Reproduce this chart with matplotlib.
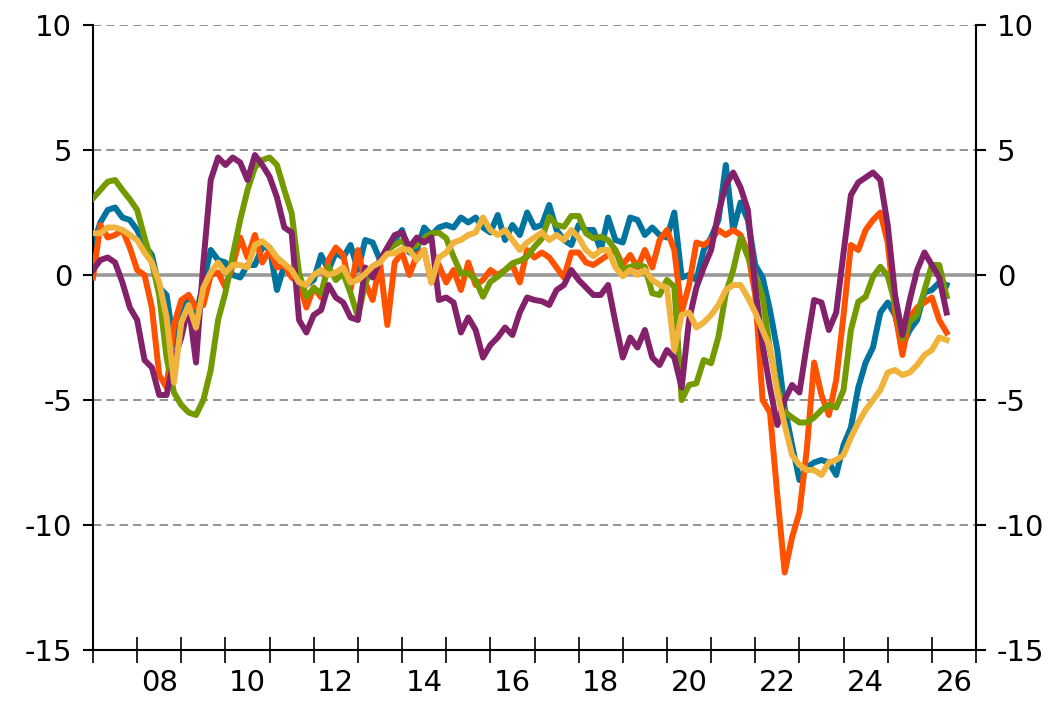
import matplotlib
matplotlib.use("Agg")
import matplotlib.pyplot as plt
import numpy as np

plt.rcParams['font.family'] = ['DejaVu Sans']
plt.rcParams['axes.unicode_minus'] = False

# bi-monthly readings, Jan 2007 .. May 2026
t = 2007 + np.arange(117) / 6.0

blue = [1.2, 2.1, 2.6, 2.7, 2.3, 2.2, 1.8, 1.2, 0.8, -0.5, -0.8, -2.8, -1.8, -0.8, -1.6, -0.3, 1.0, 0.6, 0.5, 0.0,
        -0.1, 0.4, 0.4, 1.1, 1.1, -0.6, 0.4, 0.2, -0.6, -0.4, -0.2, 0.8, 0.2, 0.9, 0.7, 1.2, 0.2, 1.4, 1.3, 0.6,
        0.9, 1.4, 1.8, 0.9, 1.0, 1.9, 1.6, 1.9, 2.0, 1.9, 2.3, 2.1, 2.3, 1.9, 1.7, 2.4, 1.4, 2.0, 1.6, 2.5,
        1.9, 2.0, 2.8, 1.8, 1.4, 1.2, 2.0, 1.8, 1.8, 1.0, 2.3, 1.4, 1.3, 2.3, 2.2, 1.6, 1.9, 1.6, 1.5, 2.5,
        -0.1, 0.0, -0.2, 1.0, 1.5, 2.2, 4.4, 1.8, 2.9, 2.2, 0.4, -0.1, -1.4, -3.0, -5.3, -6.8, -8.2, -7.7, -7.5, -7.4,
        -7.5, -8.0, -6.8, -6.1, -4.5, -3.5, -2.9, -1.5, -1.1, -1.6, -2.8, -2.2, -1.8, -0.7, -0.6, -0.3, -0.4]

orange = [-0.1, 2.0, 1.5, 1.6, 1.8, 1.1, 0.2, 0.0, -1.3, -4.0, -4.5, -2.0, -1.0, -0.8, -1.3, -1.2, 0.0, 0.1, -0.5, 0.4,
          1.5, 0.7, 1.6, 0.5, 1.0, 0.3, 0.4, -0.1, -0.3, -1.3, -0.5, -0.9, 0.6, 1.1, 0.8, -0.6, 1.0, -0.3, -1.0, 0.5,
          -2.0, 0.5, 0.9, 0.0, 0.8, 1.0, -0.3, 0.4, -0.3, 0.2, -0.6, 0.5, -0.4, -0.2, 0.2, 0.0, 0.2, 0.4, -0.3, 1.0,
          0.7, 0.9, 0.7, 0.3, -0.1, 0.9, 0.9, 0.5, 0.4, 0.6, 0.8, 1.0, 0.4, 0.8, 0.3, 1.0, 0.3, 1.4, 1.8, 1.0,
          -1.5, -0.4, 1.3, 1.2, 1.4, 1.8, 1.6, 1.8, 1.6, 0.9, -0.8, -5.0, -5.5, -8.8, -11.9, -10.5, -9.5, -7.0, -3.5, -4.8,
          -5.6, -4.2, -1.6, 1.2, 1.0, 1.8, 2.2, 2.5, 1.3, -1.5, -3.2, -1.7, -1.3, -1.1, -0.9, -1.8, -2.3]

green = [3.07, 3.4, 3.73, 3.8, 3.4, 3.03, 2.6, 1.5, 0.5, -0.8, -3.3, -4.7, -5.2, -5.5, -5.6, -5.0, -3.8, -1.8, -0.7, 0.8,
         2.2, 3.4, 4.3, 4.6, 4.7, 4.4, 3.4, 2.47, 0.07, -0.87, -0.53, -0.73, 0.33, -0.2, 0.07, -0.73, -1.67, -0.33, 0.33, 0.53,
         1.0, 1.2, 1.37, 1.07, 1.2, 1.47, 1.67, 1.69, 1.47, 0.73, 0.07, 0.07, -0.2, -0.87, -0.27, -0.07, 0.2, 0.47, 0.57, 0.73,
         1.13, 1.45, 2.33, 2.0, 1.93, 2.36, 2.36, 1.67, 1.47, 1.53, 1.4, 1.0, 0.2, 0.33, 0.4, 0.33, -0.73, -0.8, -0.2, -0.47,
         -5.0, -4.4, -4.33, -3.4, -3.53, -2.47, -0.73, 0.2, 1.47, 0.73, 0.0, -0.87, -3.0, -4.47, -5.47, -5.7, -5.9, -5.9, -5.7, -5.4,
         -5.2, -5.3, -4.6, -2.2, -1.07, -0.87, -0.07, 0.33, -0.04, -1.13, -2.53, -1.87, -1.6, -0.6, 0.4, 0.4, -0.85]

purple = [0.2, 0.6, 0.7, 0.5, -0.3, -1.3, -1.8, -3.4, -3.7, -4.8, -4.8, -3.4, -2.5, -1.2, -3.5, 0.5, 3.8, 4.7, 4.4, 4.7,
          4.5, 3.8, 4.8, 4.4, 3.93, 3.1, 1.9, 1.7, -1.8, -2.3, -1.6, -1.4, -0.4, -0.9, -1.1, -1.7, -1.8, 0.3, -0.1, 0.6,
          1.1, 1.6, 1.7, 1.1, 1.5, 1.3, 1.5, -1.0, -0.9, -1.1, -2.3, -1.7, -2.2, -3.3, -2.8, -2.5, -2.1, -2.4, -1.5, -0.9,
          -1.0, -1.05, -1.2, -0.6, -0.4, 0.2, -0.2, -0.5, -0.8, -0.8, -0.4, -1.9, -3.3, -2.5, -2.9, -2.2, -3.3, -3.6, -3.0, -3.3,
          -4.5, -1.8, -0.5, 0.3, 1.0, 2.5, 3.6, 4.1, 3.5, 2.6, -0.5, -2.8, -4.5, -6.0, -5.0, -4.4, -4.7, -2.8, -1.0, -1.1,
          -2.2, -1.5, 0.9, 3.2, 3.7, 3.9, 4.1, 3.8, 2.0, -0.8, -2.4, -1.0, 0.2, 0.9, 0.4, -0.1, -1.5]

yellow = [1.67, 1.67, 1.9, 1.9, 1.8, 1.6, 1.4, 0.9, 0.5, -0.3, -1.7, -4.3, -1.9, -1.2, -2.1, -0.5, 0.1, 0.5, 0.1, 0.4,
          0.4, 0.3, 1.2, 1.35, 1.1, 0.7, 0.45, 0.2, -0.3, -0.4, 0.0, 0.2, 0.0, 0.1, 0.3, -0.3, -0.2, 0.05, 0.35, 0.5,
          0.85, 0.87, 1.05, 1.0, 0.6, 1.0, -0.3, 0.7, 0.9, 1.3, 1.4, 1.6, 1.7, 2.3, 1.8, 1.6, 1.8, 1.4, 1.0, 1.3,
          1.5, 1.7, 1.4, 1.6, 1.4, 1.8, 1.5, 1.0, 0.75, 1.0, 1.0, 0.3, -0.05, 0.2, 0.0, 0.2, -0.2, -0.4, -0.5, -3.0,
          -1.6, -1.5, -2.1, -1.9, -1.6, -1.2, -0.6, -0.4, -0.4, -0.9, -1.5, -2.2, -2.9, -4.7, -6.0, -7.2, -7.6, -7.8, -7.8, -8.0,
          -7.5, -7.4, -7.2, -6.5, -5.9, -5.4, -5.0, -4.6, -3.9, -3.8, -4.0, -3.9, -3.6, -3.2, -3.0, -2.5, -2.6]

year_ticks = list(range(2007, 2028))
label_years = list(range(2008, 2027, 2))
yticks = [-15, -10, -5, 0, 5, 10]

fig = plt.figure(figsize=(10.61, 7.04), dpi=100)
ax = fig.add_axes([93/1061, 54/704, 883/1061, 625/704])

for yv in [-10, -5, 5, 10]:
    ax.axhline(yv, color='#808080', lw=1.2, ls=(0, (5, 3)), zorder=1)
ax.axhline(0, color='#999999', lw=2.6, zorder=1)

lw = 4.3
ax.plot(t, blue, color='#00749E', lw=lw, zorder=2, solid_joinstyle='round')
ax.plot(t, orange, color='#FF5200', lw=lw, zorder=3, solid_joinstyle='round')
ax.plot(t, green, color='#739A00', lw=lw, zorder=4, solid_joinstyle='round')
ax.plot(t, purple, color='#83226A', lw=lw, zorder=5, solid_joinstyle='round')
ax.plot(t, yellow, color='#F0B43C', lw=lw, zorder=6, solid_joinstyle='round')

ax.set_xlim(2007, 2027)
ax.set_ylim(-15, 10)

ax.set_xticks(year_ticks)
ax.set_xticklabels([])
ax.set_xticks([y + 0.5 for y in label_years], minor=True)
ax.set_xticklabels([str(y)[2:] for y in label_years], minor=True)
ax.tick_params(axis='x', which='major', direction='inout', length=19, width=1.2, color='black')
ax.tick_params(axis='x', which='minor', length=0, pad=14, labelsize=21)

ax.set_yticks(yticks)
ax.set_yticklabels([str(v) for v in yticks])
ax.tick_params(axis='y', which='major', direction='out', length=7, width=1.5, labelsize=21,
               left=True, right=True, labelleft=True, labelright=True, pad=8)

ax.spines['top'].set_visible(False)
for s in ['left', 'right', 'bottom']:
    ax.spines[s].set_linewidth(1.5)
    ax.spines[s].set_color('black')

fig.savefig('out.png', dpi=100)
